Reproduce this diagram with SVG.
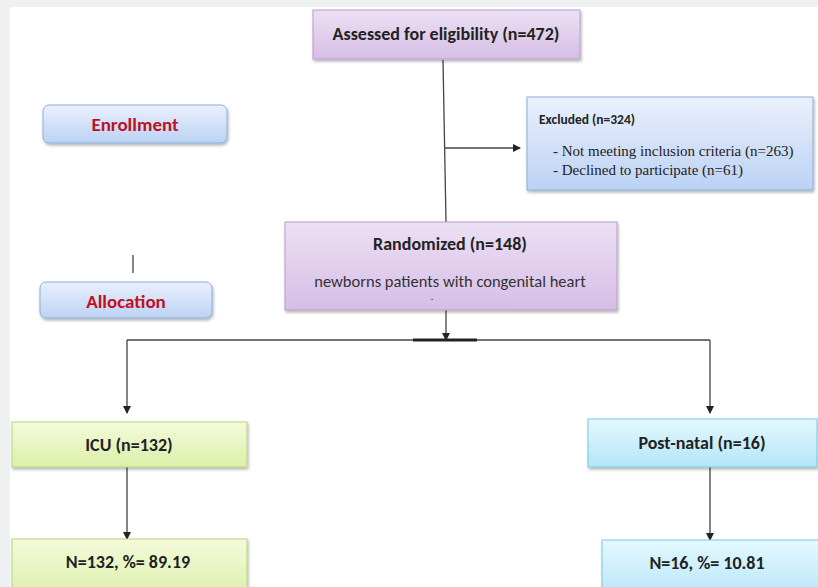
<svg xmlns="http://www.w3.org/2000/svg" width="818" height="587" viewBox="0 0 818 587">
<defs>
<linearGradient id="gPurple" x1="0" y1="0" x2="0" y2="1"><stop offset="0" stop-color="#ece0f4"/><stop offset="1" stop-color="#d6bee6"/></linearGradient>
<linearGradient id="gBlue" x1="0" y1="0" x2="0" y2="1"><stop offset="0" stop-color="#eaf0fc"/><stop offset="1" stop-color="#bcd2f4"/></linearGradient>
<linearGradient id="gGreen" x1="0" y1="0" x2="0" y2="1"><stop offset="0" stop-color="#f4fadc"/><stop offset="1" stop-color="#dcf0a8"/></linearGradient>
<linearGradient id="gCyan" x1="0" y1="0" x2="0" y2="1"><stop offset="0" stop-color="#e4f8fe"/><stop offset="1" stop-color="#b4e6f8"/></linearGradient>
<filter id="sh" x="-10%" y="-10%" width="120%" height="140%"><feDropShadow dx="1" dy="2" stdDeviation="1.5" flood-color="#000" flood-opacity="0.3"/></filter>
<marker id="arr" markerWidth="8" markerHeight="8" refX="7" refY="4" orient="auto" markerUnits="userSpaceOnUse"><path d="M0,0 L8,4 L0,8 z" fill="#222"/></marker>
<style>
.t{font-family:Calibri,Carlito,Lato,"Liberation Sans",sans-serif;font-weight:bold;fill:#222;font-size:18px;text-anchor:middle}
.lab{font-family:Calibri,Carlito,Lato,"Liberation Sans",sans-serif;font-weight:bold;fill:#c0101e;font-size:19px;text-anchor:middle}
.s{font-family:"Liberation Serif",serif;fill:#222;font-size:15px}
.c{stroke:#444;stroke-width:1.3;fill:none}
.pb{fill:url(#gPurple);stroke:#b89cc8;stroke-width:1;filter:url(#sh)}
.bb{fill:url(#gBlue);stroke:#8aaedc;stroke-width:1;filter:url(#sh)}
.gb{fill:url(#gGreen);stroke:#b4d67a;stroke-width:1;filter:url(#sh)}
.cb{fill:url(#gCyan);stroke:#7cc8e4;stroke-width:1;filter:url(#sh)}
</style>
</defs>
<rect width="818" height="587" fill="#ffffff"/>
<rect x="0" y="0" width="818" height="7" fill="#eef0f2"/>
<rect x="0" y="0" width="10" height="587" fill="#eef0f2"/>
<g id="connectors">
<line class="c" x1="443" y1="60" x2="446" y2="222"/>
<line class="c" x1="444" y1="148" x2="520" y2="148" marker-end="url(#arr)"/>
<line class="c" x1="446" y1="310" x2="446" y2="340" marker-end="url(#arr)"/>
<line class="c" x1="127" y1="340" x2="710" y2="340"/>
<line x1="413" y1="340" x2="477" y2="340" stroke="#222" stroke-width="3"/>
<line class="c" x1="127" y1="340" x2="127" y2="413" marker-end="url(#arr)"/>
<line class="c" x1="710" y1="340" x2="710" y2="413" marker-end="url(#arr)"/>
<line class="c" x1="127" y1="467" x2="127" y2="539" marker-end="url(#arr)"/>
<line class="c" x1="710" y1="467" x2="710" y2="540" marker-end="url(#arr)"/>
<line class="c" x1="133" y1="255" x2="133" y2="273"/>
</g>
<g id="assessed"><rect class="pb" x="313" y="10" width="267" height="49"/><text class="t" x="446" y="40">Assessed  for eligibility (n=472)</text></g>
<g id="excluded"><rect class="bb" x="527" y="97" width="286" height="93"/>
<text class="t" x="539" y="124" style="text-anchor:start;font-size:13.5px">Excluded (n=324)</text>
<text class="s" x="553" y="156">-  Not meeting inclusion criteria (n=263)</text>
<text class="s" x="553" y="175">-  Declined to participate (n=61)</text></g>
<g id="enrollment"><rect class="bb" x="43" y="105" width="184" height="38" rx="6"/><text class="lab" x="135" y="131">Enrollment</text></g>
<g id="allocation"><rect class="bb" x="40" y="282" width="172" height="36" rx="6"/><text class="lab" x="126" y="308">Allocation</text></g>
<g id="randomized"><rect class="pb" x="285" y="222" width="332" height="88"/>
<text class="t" x="450" y="250">Randomized (n=148)</text>
<text class="t" x="450" y="287" style="font-weight:normal;fill:#333;font-size:16.5px">newborns patients with congenital heart</text>
<text class="t" x="432" y="300" style="font-size:8px">.</text></g>
<g id="icu"><rect class="gb" x="12" y="422" width="235" height="45"/><text class="t" x="129" y="451">ICU (n=132)</text></g>
<g id="postnatal"><rect class="cb" x="588" y="419" width="229" height="48"/><text class="t" x="702" y="449">Post-natal (n=16)</text></g>
<g id="icuN"><rect class="gb" x="12" y="539" width="235" height="60"/><text class="t" x="128" y="568">N=132, %= 89.19</text></g>
<g id="postN"><rect class="cb" x="602" y="540" width="225" height="60"/><text class="t" x="707" y="569">N=16, %= 10.81</text></g>
</svg>
